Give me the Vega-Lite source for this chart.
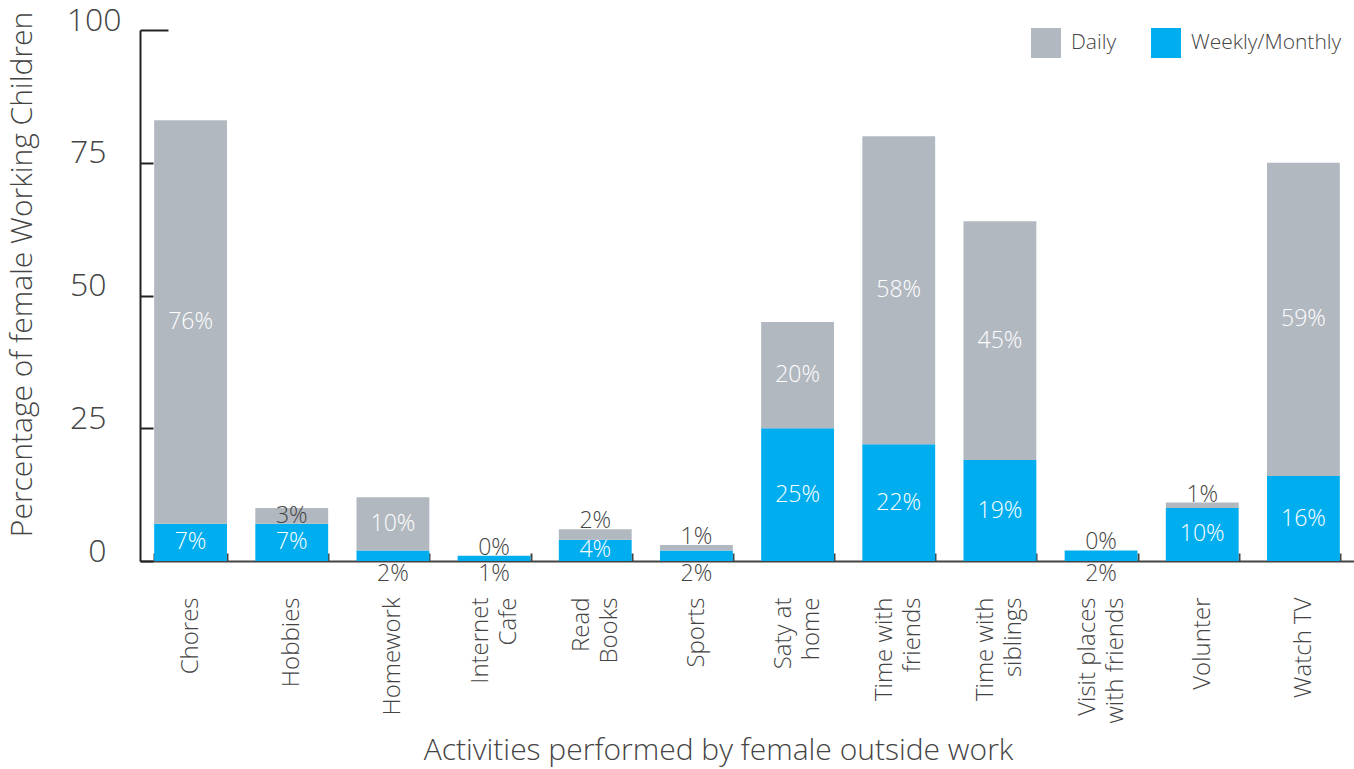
{
  "$schema": "https://vega.github.io/schema/vega-lite/v6.json",
  "width": 1214,
  "height": 531,
  "autosize": {"type": "none"},
  "padding": {"left": 140, "top": 30, "right": 0, "bottom": 208},
  "background": "white",
  "config": {
    "view": {"stroke": null},
    "font": "Open Sans",
    "text": {"font": "Open Sans"}
  },
  "data": {
    "values": [
      {"activity": "Chores", "freq": "Weekly/Monthly", "value": 7},
      {"activity": "Chores", "freq": "Daily", "value": 76},
      {"activity": "Hobbies", "freq": "Weekly/Monthly", "value": 7},
      {"activity": "Hobbies", "freq": "Daily", "value": 3},
      {"activity": "Homework", "freq": "Weekly/Monthly", "value": 2},
      {"activity": "Homework", "freq": "Daily", "value": 10},
      {"activity": "Internet\nCafe", "freq": "Weekly/Monthly", "value": 1},
      {"activity": "Internet\nCafe", "freq": "Daily", "value": 0},
      {"activity": "Read\nBooks", "freq": "Weekly/Monthly", "value": 4},
      {"activity": "Read\nBooks", "freq": "Daily", "value": 2},
      {"activity": "Sports", "freq": "Weekly/Monthly", "value": 2},
      {"activity": "Sports", "freq": "Daily", "value": 1},
      {"activity": "Saty at\nhome", "freq": "Weekly/Monthly", "value": 25},
      {"activity": "Saty at\nhome", "freq": "Daily", "value": 20},
      {"activity": "Time with\nfriends", "freq": "Weekly/Monthly", "value": 22},
      {"activity": "Time with\nfriends", "freq": "Daily", "value": 58},
      {"activity": "Time with\nsiblings", "freq": "Weekly/Monthly", "value": 19},
      {"activity": "Time with\nsiblings", "freq": "Daily", "value": 45},
      {"activity": "Visit places\nwith friends", "freq": "Weekly/Monthly", "value": 2},
      {"activity": "Visit places\nwith friends", "freq": "Daily", "value": 0},
      {"activity": "Volunter", "freq": "Weekly/Monthly", "value": 10},
      {"activity": "Volunter", "freq": "Daily", "value": 1},
      {"activity": "Watch TV", "freq": "Weekly/Monthly", "value": 16},
      {"activity": "Watch TV", "freq": "Daily", "value": 59}
    ]
  },
  "transform": [
    {"calculate": "datum.freq === 'Weekly/Monthly' ? 0 : 1", "as": "ord"},
    {"stack": "value", "groupby": ["activity"], "sort": [{"field": "ord", "order": "ascending"}], "as": ["y0", "y1"]},
    {"calculate": "datum.value < 3 ? (datum.ord === 0 ? -2.5 : datum.y1 + 1.5) : (datum.y0 + datum.y1) / 2", "as": "ly"},
    {"calculate": "datum.value <= 3 ? 'out' : 'in'", "as": "pos"},
    {"calculate": "datum.value + '%'", "as": "lbl"}
  ],
  "encoding": {
    "x": {
      "field": "activity",
      "type": "nominal",
      "sort": null,
      "scale": {"paddingInner": 0.28, "paddingOuter": 0.14},
      "axis": {
        "title": "Activities performed by female outside work",
        "titleFontSize": 30,
        "titleFontWeight": 300,
        "titleColor": "#444",
        "titleX": 578,
        "titleY": 189,
        "titleAlign": "center",
        "titleBaseline": "middle",
        "labelAngle": -90,
        "labelAlign": "right",
        "labelBaseline": "middle",
        "labelFontSize": 24,
        "labelFontWeight": 300,
        "labelColor": "#444",
        "labelLineHeight": 28,
        "labelPadding": 44,
        "labelOffset": {"condition": {"test": "indexof(datum.label, '\\n') >= 0", "value": -14}, "value": 0},
        "labelExpr": "split(datum.label, '\\n')",
        "tickBand": "extent",
        "tickExtra": true,
        "tickSize": -8,
        "tickWidth": 2,
        "tickColor": "#444",
        "domainColor": "#444",
        "domainWidth": 2
      }
    }
  },
  "layer": [
    {
      "mark": {"type": "bar"},
      "encoding": {
        "y": {
          "field": "y0",
          "type": "quantitative",
          "scale": {"domain": [0, 100], "nice": false},
          "axis": {
            "title": "Percentage of female Working Children",
            "titleFontSize": 30,
            "titleFontWeight": 300,
            "titleColor": "#444",
            "titleX": -118,
            "titleY": 244,
            "titleAngle": -90,
            "titleAlign": "center",
            "titleBaseline": "middle",
            "values": [0, 25, 50, 75, 100],
            "grid": false,
            "labelFontSize": 32,
            "labelFontWeight": 300,
            "labelColor": "#444",
            "labelOffset": -10,
            "labelFlush": false,
            "labelPadding": 47,
            "tickSize": {"condition": {"test": "datum.value === 100", "value": -28}, "value": -13},
            "tickWidth": 2,
            "tickColor": "#222",
            "domainColor": "#222",
            "domainWidth": 2
          }
        },
        "y2": {"field": "y1"},
        "color": {
          "field": "freq",
          "type": "nominal",
          "scale": {"domain": ["Daily", "Weekly/Monthly"], "range": ["#b2b8c0", "#00aeef"]},
          "legend": {
            "title": null,
            "orient": "none",
            "legendX": 891,
            "legendY": -2,
            "direction": "horizontal",
            "symbolType": "square",
            "symbolSize": 900,
            "symbolStrokeWidth": 0,
            "symbolOpacity": 1,
            "labelFontSize": 21,
            "labelFontWeight": 300,
            "labelColor": "#444",
            "labelOffset": 10,
            "columnPadding": 34
          }
        }
      }
    },
    {
      "mark": {"type": "text", "fontSize": 23, "fontWeight": 300, "baseline": "middle", "align": "center"},
      "encoding": {
        "y": {"field": "ly", "type": "quantitative"},
        "text": {"field": "lbl"},
        "color": {
          "condition": {"test": "datum.pos === 'out'", "value": "#444"},
          "value": "#ffffff"
        }
      }
    }
  ]
}
